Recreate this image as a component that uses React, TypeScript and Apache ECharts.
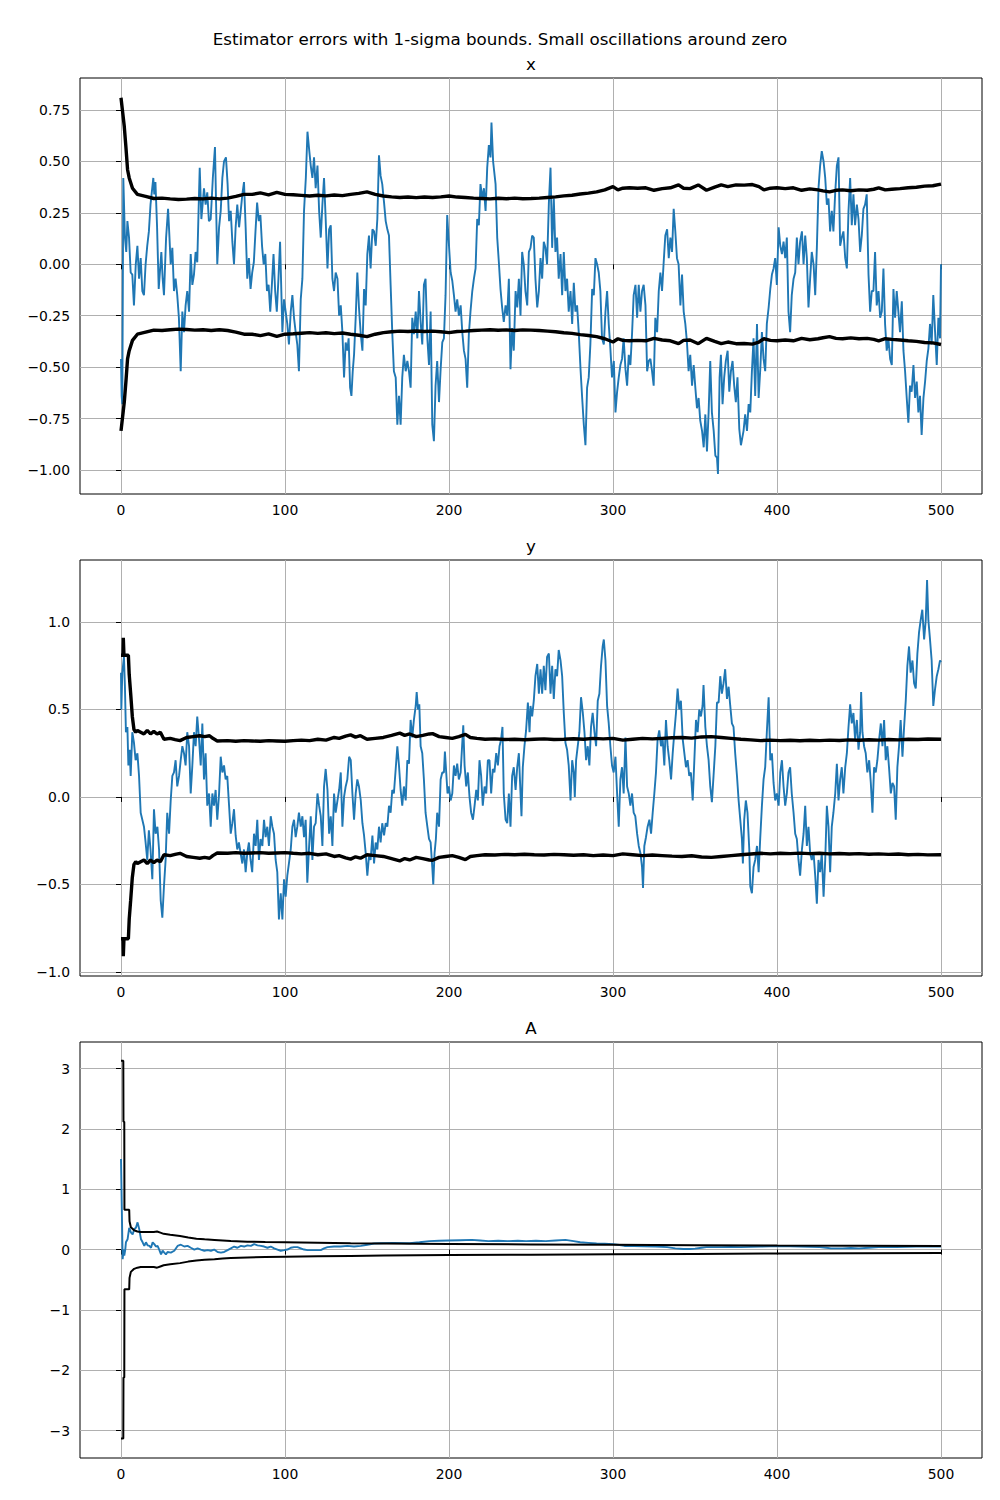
import React, { useEffect, useRef } from 'react';
import * as echarts from 'echarts';

const SUPTITLE = 'Estimator errors with 1-sigma bounds. Small oscillations around zero';
const PANEL_TITLES = ['x', 'y', 'A'];
const T_TICKS = [0, 100, 200, 300, 400, 500];
const X_TICKS = [-1, -0.75, -0.5, -0.25, 0, 0.25, 0.5, 0.75];
const Y_TICKS = [-1, -0.5, 0, 0.5, 1];
const A_TICKS = [-3, -2, -1, 0, 1, 2, 3];

// x estimator error [t, err]
const xErr = [[0,-0.46],[0.4,-0.64],[0.8,-0.68],[1.4,0.42],[2.4,0.13],[3.2,0.06],[3.9,0.21],[4.9,0.13],[5.9,-0.04],[6.9,-0.05],[7.9,-0.2],[9,0],[10,0.09],[11,-0.07],[12,0.03],[13,-0.13],[14,-0.15],[15,0],[16,0.09],[17,0.16],[18,0.29],[19.7,0.42],[20.3,0.34],[21,0.4],[22,0.18],[23,-0.12],[24.6,0.06],[25.4,-0.07],[26.2,-0.15],[27.5,0.13],[28.7,0.27],[29.5,0.14],[30.3,0],[31.3,0.08],[32.3,-0.13],[33.3,-0.07],[34.3,-0.15],[35.3,-0.26],[36.4,-0.52],[37.4,-0.23],[38.4,-0.33],[39.4,-0.2],[40.4,-0.13],[41.5,-0.23],[42.5,0.05],[43.5,-0.1],[44.5,-0.05],[45.5,0.06],[46.5,0.01],[47.3,0.26],[48,0.47],[49,0.22],[50.6,0.37],[51.6,0.29],[52.6,0.35],[53.6,0.21],[54.7,0.22],[56,0.42],[57.3,0.57],[58.7,0],[59.8,0.18],[60.8,0.26],[61.8,0.42],[62.8,0.5],[64,0.52],[65,0.39],[65.9,0.21],[66.9,0.26],[67.9,0.11],[68.9,0],[69.9,0.18],[70.9,0.29],[72,0.18],[73,0.26],[74,0.34],[75,0.4],[76,0.18],[77,-0.07],[78,0.03],[79,-0.12],[80,-0.04],[81,0.01],[82,0.16],[83,0.3],[84,0.21],[85,0.24],[86,0.09],[87,0],[88,0.05],[89,-0.13],[90,-0.1],[91,-0.23],[92,-0.1],[93,0.05],[94,-0.13],[95,-0.23],[96,-0.07],[97,0.11],[98.4,-0.33],[99.4,-0.17],[100.4,-0.23],[101.4,-0.29],[102.4,-0.39],[103.5,-0.23],[104.5,-0.15],[105.5,-0.26],[106.5,-0.33],[107.5,-0.39],[108.5,-0.52],[109.6,-0.17],[110.6,-0.07],[111.6,0.26],[112.7,0.42],[113.7,0.645],[114.7,0.56],[115.7,0.48],[116.7,0.42],[117.7,0.52],[118.7,0.37],[119.8,0.48],[120.8,0.26],[121.8,0.13],[122.8,0.29],[123.8,0.42],[124.8,0.22],[125.9,-0.02],[126.9,0.17],[127.9,0.19],[128.9,-0.07],[129.9,-0.13],[130.9,-0.04],[132,-0.07],[133,-0.25],[134,-0.2],[135,-0.33],[136,-0.55],[137,-0.38],[138,-0.42],[138.8,-0.36],[139.7,-0.6],[140.5,-0.64],[141.3,-0.52],[142.1,-0.44],[143.1,-0.26],[144.1,-0.04],[145.1,-0.21],[146.2,-0.34],[147.2,-0.42],[148.2,-0.12],[149.2,-0.2],[150.2,0.05],[151.2,0.14],[152.2,-0.02],[153.3,0.17],[154.3,0.16],[155.3,0.09],[156.3,0.22],[157.3,0.53],[158.3,0.43],[159.3,0.39],[160.4,0.3],[161.4,0.21],[162.4,0.17],[163.4,0.14],[164.4,-0.1],[165.4,-0.33],[166.4,-0.52],[167.5,-0.55],[168.5,-0.78],[169.5,-0.64],[170.5,-0.78],[171.5,-0.55],[172.5,-0.44],[173.6,-0.52],[174.6,-0.47],[175.6,-0.52],[176.6,-0.6],[177.6,-0.26],[178.6,-0.34],[179.7,-0.23],[180.7,-0.36],[181.7,-0.13],[182.7,-0.28],[183.7,-0.39],[184.7,-0.1],[185.7,-0.07],[186.8,-0.36],[187.8,-0.49],[188.8,-0.23],[189.8,-0.78],[190.8,-0.86],[191.8,-0.59],[192.8,-0.47],[193.9,-0.67],[194.9,-0.51],[195.9,-0.38],[196.9,-0.36],[197.9,-0.15],[198.9,0.24],[200,0.09],[201,-0.04],[202,-0.08],[203,-0.15],[204,-0.23],[205,-0.17],[206,-0.25],[207.1,-0.2],[208.1,-0.33],[209.1,-0.42],[210.1,-0.46],[211.1,-0.6],[212.1,-0.34],[213.1,-0.23],[214.2,-0.13],[215.2,-0.07],[216.2,-0.02],[217.2,0.22],[218.2,0.19],[219.2,0.39],[220.3,0.32],[221.3,0.37],[222.3,0.26],[223.3,0.47],[224.3,0.58],[225.3,0.52],[225.9,0.69],[226.9,0.5],[228.4,0.39],[229.4,0.13],[230.4,0.01],[231.4,-0.12],[232.4,-0.21],[233.4,-0.28],[234.5,-0.2],[235.5,-0.25],[236.5,-0.07],[237.5,-0.51],[238.5,-0.31],[239.5,-0.42],[240.6,-0.13],[241.6,-0.21],[242.6,-0.07],[243.6,-0.25],[244.6,0.06],[245.6,0],[246.6,-0.13],[247.7,-0.2],[248.7,0.06],[249.7,0.08],[250.7,0.14],[251.7,0.13],[252.7,-0.07],[253.8,-0.21],[254.8,-0.13],[255.8,0.03],[256.8,-0.07],[257.8,0.11],[258.8,0.08],[259.8,0],[260.9,0.3],[261.9,0.47],[262.9,0.08],[263.9,0.32],[264.9,0.06],[265.9,0.13],[266.9,-0.07],[268,0.05],[269,-0.15],[270,0.06],[271,-0.13],[272,-0.07],[273,-0.23],[274.1,-0.13],[275.1,-0.29],[276.1,-0.09],[277.1,-0.23],[278.1,-0.2],[279.1,-0.33],[280.2,-0.51],[281.2,-0.65],[282.2,-0.78],[283.2,-0.88],[284.2,-0.6],[285.2,-0.55],[286.2,-0.39],[287.3,-0.12],[288.3,-0.15],[289.3,0.03],[290.3,0],[291.3,-0.04],[292.3,-0.13],[293.3,-0.36],[294.4,-0.39],[295.4,-0.23],[296.4,-0.13],[297.4,-0.29],[298.4,-0.41],[299.4,-0.55],[300.5,-0.47],[301.5,-0.72],[302.5,-0.62],[303.5,-0.55],[304.5,-0.49],[305.5,-0.46],[306.5,-0.36],[307.6,-0.51],[308.6,-0.59],[309.6,-0.44],[310.6,-0.49],[311.6,-0.34],[312.6,-0.15],[313.7,-0.1],[314.7,-0.26],[315.7,-0.1],[316.7,-0.23],[317.7,-0.13],[318.7,-0.1],[319.8,-0.2],[320.8,-0.52],[321.8,-0.47],[322.8,-0.46],[323.8,-0.52],[324.8,-0.59],[325.8,-0.26],[326.9,-0.33],[327.9,-0.13],[328.9,-0.04],[329.9,-0.13],[330.9,0.01],[331.9,0.14],[333,0.17],[334,0.03],[335,0.13],[336,0.06],[337,0.27],[338,0.16],[339,0.03],[340,0],[341.1,-0.2],[342.1,-0.05],[343.1,-0.23],[344.1,-0.29],[345.1,-0.38],[346.1,-0.52],[347.1,-0.44],[348.2,-0.59],[349.2,-0.49],[350.2,-0.6],[351.2,-0.7],[352.2,-0.65],[353.2,-0.76],[354.3,-0.81],[355.3,-0.89],[356.3,-0.73],[357.3,-0.91],[358.3,-0.72],[359.3,-0.47],[360.3,-0.72],[361.4,-0.81],[362.4,-0.93],[363.4,-0.94],[364,-1.02],[365,-0.55],[365.8,-0.44],[366.8,-0.68],[367.8,-0.55],[368.8,-0.47],[369.9,-0.42],[370.9,-0.62],[371.9,-0.52],[372.9,-0.47],[373.9,-0.59],[374.9,-0.67],[375.9,-0.55],[377,-0.8],[378,-0.88],[379.6,-0.81],[380.6,-0.73],[381.7,-0.81],[382.7,-0.68],[383.7,-0.72],[384.7,-0.52],[385.7,-0.36],[386.7,-0.64],[387.8,-0.29],[388.8,-0.65],[389.8,-0.51],[390.8,-0.33],[391.8,-0.46],[392.8,-0.52],[393.8,-0.29],[394.9,-0.21],[395.9,-0.12],[396.9,-0.05],[397.9,-0.02],[398.9,0.03],[399.9,-0.1],[401,0.18],[402,0.09],[403,0.05],[404,0.11],[405,0.03],[406,0.13],[407,-0.23],[408,-0.33],[409,-0.15],[410.1,-0.07],[411.1,-0.04],[412.1,0.13],[413.1,0],[414.1,0.11],[415.2,0.16],[416.2,0],[417.2,0.14],[418.2,0.03],[419.2,-0.21],[420.2,-0.07],[421.2,0.06],[422.3,0],[423.3,-0.15],[424.3,0.08],[425.3,0.37],[426.3,0.48],[427.3,0.55],[428.4,0.5],[429.4,0.42],[430.4,0.29],[431.4,0.32],[432.4,0.16],[433.4,0.26],[434.4,0.16],[435.5,0.35],[436.5,0.48],[437.5,0.52],[438.5,0.09],[439.5,0.13],[440.5,0.16],[441.6,0.03],[442.6,-0.02],[443.6,0.26],[444.6,0.42],[445.6,0.19],[446.6,0.34],[447.6,0.19],[448.7,0.29],[449.7,0.22],[450.7,0.06],[451.7,0.14],[452.7,0.27],[453.7,0.29],[454.7,0.34],[455.8,-0.05],[456.8,-0.23],[457.8,-0.13],[458.8,-0.13],[459.8,0.06],[460.8,-0.2],[461.9,-0.13],[462.9,-0.26],[463.9,-0.23],[464.9,-0.02],[465.9,-0.29],[466.9,-0.42],[467.9,-0.36],[469,-0.46],[470,-0.49],[471,-0.12],[472,-0.26],[473,-0.13],[474,-0.23],[475,-0.33],[476.1,-0.18],[477.1,-0.42],[478.1,-0.52],[479.1,-0.65],[480.1,-0.77],[481.1,-0.59],[482.1,-0.62],[483.2,-0.49],[484.2,-0.65],[485.2,-0.57],[486.2,-0.72],[487.2,-0.64],[488.2,-0.83],[489.3,-0.65],[490.3,-0.57],[491.3,-0.47],[492.3,-0.41],[493.3,-0.29],[494.3,-0.39],[495.3,-0.15],[496.4,-0.33],[497.4,-0.49],[498.4,-0.26],[499.4,-0.36],[500,0]];

// x 1-sigma bound [t, sigma]
const xSigma = [[0,0.81],[1,0.74],[2,0.67],[3,0.57],[4,0.46],[5,0.42],[7,0.37],[10,0.34],[15,0.33],[20,0.32],[25,0.322],[30,0.318],[35,0.315],[40,0.317],[45,0.32],[50,0.318],[55,0.322],[60,0.318],[65,0.322],[70,0.33],[75,0.34],[80,0.34],[85,0.347],[90,0.338],[95,0.35],[100,0.34],[105,0.338],[110,0.335],[115,0.332],[120,0.336],[125,0.333],[130,0.337],[135,0.334],[140,0.34],[145,0.345],[150,0.352],[155,0.34],[160,0.332],[165,0.328],[170,0.325],[175,0.327],[180,0.324],[185,0.327],[190,0.325],[195,0.328],[200,0.332],[205,0.327],[210,0.325],[215,0.322],[220,0.32],[225,0.318],[230,0.321],[235,0.319],[240,0.322],[245,0.319],[250,0.32],[255,0.322],[260,0.325],[265,0.328],[270,0.333],[275,0.336],[280,0.342],[285,0.346],[290,0.352],[295,0.362],[300,0.378],[303,0.362],[306,0.37],[310,0.372],[315,0.37],[320,0.372],[325,0.36],[330,0.368],[335,0.372],[340,0.386],[343,0.37],[347,0.368],[352,0.386],[357,0.36],[362,0.375],[366,0.386],[370,0.378],[375,0.386],[380,0.385],[385,0.388],[389,0.378],[392,0.362],[396,0.37],[400,0.372],[405,0.368],[410,0.372],[415,0.36],[420,0.367],[425,0.362],[428,0.357],[432,0.352],[436,0.36],[440,0.362],[445,0.358],[450,0.362],[455,0.36],[459,0.365],[462,0.372],[466,0.362],[470,0.365],[475,0.368],[480,0.372],[485,0.375],[490,0.38],[495,0.382],[500,0.39]];

// y estimator error [t, err]
const yErr = [[0,0.71],[0.2,0.5],[0.8,0.71],[1.8,0.8],[2.4,0.63],[3,0.37],[3.9,0.4],[4.5,0.18],[5.3,0.27],[5.9,0.12],[6.9,0.37],[7.9,0.31],[8.9,0.21],[10,0.25],[11,0.12],[12,-0.09],[13,-0.13],[14,-0.17],[15,-0.26],[16,-0.36],[17,-0.19],[18,-0.3],[19.1,-0.47],[20.1,-0.07],[21.1,-0.21],[22.2,-0.17],[23.2,-0.3],[24.2,-0.59],[25.2,-0.69],[26.2,-0.51],[27.2,-0.36],[28.2,-0.09],[29.3,-0.21],[30.3,-0.02],[31.3,0.12],[32.3,0.14],[33.3,0.21],[34.3,0.06],[35.4,0.12],[36.4,0.21],[37.4,0.29],[38.4,0.25],[39.4,0.18],[40.4,0.37],[41.5,0.29],[42.5,0.02],[43.5,0.18],[44.5,0.37],[45.5,0.29],[46.5,0.46],[47.6,0.33],[48.6,0.18],[49.6,0.42],[50.6,0.1],[51.6,0.25],[52.6,-0.05],[53.7,0.02],[54.7,-0.17],[55.7,0.02],[56.7,-0.05],[57.7,0.04],[58.7,-0.13],[59.8,0.02],[60.8,0.23],[61.8,0.14],[62.8,0.18],[63.8,0.1],[64.8,0.12],[65.9,-0.05],[66.9,-0.21],[67.9,-0.15],[68.9,-0.07],[69.9,-0.22],[70.9,-0.3],[71.9,-0.26],[72.9,-0.32],[74,-0.38],[75,-0.3],[76,-0.43],[77,-0.32],[78,-0.26],[79,-0.36],[80,-0.43],[81.1,-0.21],[82.1,-0.28],[83.1,-0.13],[84.1,-0.36],[85.1,-0.24],[86.2,-0.28],[87.2,-0.13],[88.2,-0.23],[89.2,-0.17],[90.2,-0.28],[91.3,-0.11],[92.3,-0.17],[93.3,-0.21],[94.3,-0.36],[95.3,-0.43],[96.3,-0.7],[97.4,-0.55],[98.4,-0.7],[99.4,-0.47],[100.4,-0.57],[101.4,-0.45],[102.4,-0.38],[103.5,-0.3],[104.5,-0.17],[105.5,-0.13],[106.5,-0.23],[107.5,-0.17],[108.5,-0.09],[109.6,-0.17],[110.6,-0.11],[111.6,-0.23],[112.6,-0.13],[113.6,-0.49],[114.6,-0.3],[115.7,-0.11],[116.7,-0.36],[117.7,-0.17],[118.7,-0.15],[119.8,0.02],[120.8,-0.05],[121.8,-0.11],[122.8,-0.28],[123.8,0.06],[124.8,0.16],[125.9,0.04],[126.9,-0.21],[127.9,-0.11],[128.9,-0.28],[129.9,0.02],[130.9,-0.09],[132,-0.02],[133,0.04],[134,0.14],[135,-0.17],[136,0],[137,0.06],[138,0.1],[139.1,0.23],[140.1,0.21],[141.1,0.02],[142.1,-0.13],[143.1,0.02],[144.1,0.1],[145.1,0.06],[146.2,-0.02],[147.2,-0.15],[148.2,-0.22],[149.2,-0.32],[150.2,-0.45],[151.2,-0.34],[152.2,-0.36],[153.3,-0.22],[154.3,-0.38],[155.3,-0.26],[156.3,-0.3],[157.3,-0.17],[158.3,-0.26],[159.3,-0.15],[160.4,-0.22],[161.4,-0.15],[162.4,-0.17],[163.4,-0.05],[164.4,-0.09],[165.4,0.04],[166.4,0.02],[167.5,0.16],[168.5,0.29],[169.5,0.18],[170.5,0.04],[171.5,-0.05],[172.5,0.06],[173.6,-0.02],[174.6,0.21],[175.6,0.19],[176.6,0.44],[177.6,0.34],[178.6,0.44],[179.7,0.52],[180.3,0.6],[181.1,0.5],[181.9,0.53],[182.7,0.29],[183.7,0.25],[184.7,0.1],[185.7,-0.09],[186.8,-0.17],[187.8,-0.24],[188.8,-0.26],[189.8,-0.4],[190.4,-0.5],[191.2,-0.32],[192,-0.24],[192.8,-0.09],[193.9,-0.17],[194.9,0.1],[195.9,0.14],[196.9,0.14],[197.5,0.26],[198.3,0.14],[199.1,0.02],[199.9,0.06],[201,-0.02],[202,0.02],[203,0.18],[204,0.12],[205,0.19],[206,0.1],[207.1,0.14],[208.1,0.31],[208.7,0.41],[209.5,0.18],[210.5,0.06],[211.5,0.14],[212.5,0],[213.5,-0.09],[214.6,-0.13],[215.6,-0.05],[216.6,0.04],[217.6,-0.02],[218.6,0.21],[219.6,0.12],[220.6,-0.05],[221.7,0.06],[222.7,0.02],[223.7,0.21],[224.7,0.21],[225.7,0.02],[226.7,0.16],[227.7,0.14],[228.8,0.25],[229.8,0.18],[230.8,0.29],[231.8,0.33],[232.6,0.4],[233.4,0.02],[234.5,-0.13],[235.5,-0.15],[236.5,0.02],[237.5,-0.17],[238.5,0.12],[239.5,0.17],[240.6,0.04],[241.6,0.17],[242.6,0.25],[243.6,0.02],[244.2,-0.11],[245,0.17],[246,0.29],[247,0.38],[248.1,0.54],[249.1,0.37],[249.7,0.52],[250.7,0.46],[251.7,0.55],[252.7,0.69],[253.8,0.76],[254.8,0.59],[255.8,0.73],[256.8,0.59],[257.8,0.75],[258.8,0.61],[259.8,0.8],[260.9,0.82],[261.9,0.59],[262.9,0.75],[263.9,0.56],[264.9,0.73],[265.9,0.69],[266.9,0.84],[268,0.78],[269,0.69],[270,0.48],[271,0.31],[272,0.27],[273,0.18],[274.1,-0.02],[275.1,0.21],[276.1,0.14],[276.7,0],[277.5,0.21],[278.5,0.29],[279.5,0.37],[280.5,0.57],[281.6,0.48],[282.6,0.37],[283.6,0.21],[284.6,0.29],[285.6,0.18],[286.6,0.4],[287.6,0.48],[288.7,0.37],[289.7,0.29],[290.7,0.55],[291.7,0.59],[292.7,0.75],[293.7,0.86],[294.4,0.9],[295.4,0.78],[296.4,0.52],[297.4,0.42],[298.4,0.29],[299.4,0.18],[300.4,0.14],[301.5,0.23],[302.5,0.02],[303.5,-0.17],[304.5,0.1],[305.5,0.17],[306.5,0.02],[307.6,0.34],[308.6,0.06],[309.6,0.02],[310.6,-0.05],[311.6,0.02],[312.6,-0.09],[313.6,-0.11],[314.7,-0.21],[315.7,-0.28],[316.7,-0.32],[317.7,-0.4],[318.3,-0.52],[319.1,-0.28],[320.1,-0.23],[321.1,-0.17],[322.2,-0.13],[323.2,-0.21],[324.2,-0.09],[325.2,0.02],[326.2,0.14],[327.2,0.33],[328.2,0.38],[329.3,0.29],[330.3,0.33],[331.3,0.18],[332.3,0.44],[333.3,0.29],[334.3,0.21],[335.4,0.1],[336.4,0.25],[337.4,0.37],[338.4,0.48],[339.4,0.62],[340.4,0.5],[341.4,0.55],[342.5,0.33],[343.5,0.25],[344.5,0.17],[345.5,0.21],[346.5,0.12],[347.5,0.14],[348.6,-0.02],[349.6,0.21],[350.6,0.44],[351.6,0.37],[352.6,0.5],[353.6,0.46],[354.6,0.52],[355.2,0.64],[356.3,0.4],[357.3,0.29],[358.3,0.21],[359.3,0.06],[360.3,-0.03],[361.3,0.12],[362.4,0.29],[363.4,0.54],[364.4,0.54],[365.4,0.69],[366.4,0.59],[367.4,0.65],[368.4,0.73],[369.5,0.56],[370.5,0.63],[371.5,0.52],[372.5,0.42],[373.5,0.4],[374.5,0.25],[375.6,0.12],[376.6,-0.02],[377.6,-0.13],[378.6,-0.24],[379.2,-0.38],[380,-0.13],[381,-0.02],[382,-0.09],[383.1,-0.3],[383.7,-0.51],[384.7,-0.55],[385.7,-0.4],[386.7,-0.36],[387.8,-0.28],[388.8,-0.43],[389.8,-0.23],[390.8,-0.05],[391.8,0.1],[392.8,0.17],[393.8,0.37],[394.9,0.57],[395.9,0.21],[396.9,0.25],[397.9,0.08],[398.9,-0.02],[399.9,0.02],[401,-0.05],[402,0.14],[403,0.21],[404,0.06],[405,-0.05],[406,0.02],[407,0.14],[408,0.17],[409,0.02],[410.1,-0.09],[411.1,-0.21],[412.1,-0.24],[413.1,-0.36],[414.1,-0.45],[415.2,-0.3],[416.2,-0.21],[417.2,-0.05],[418.2,-0.28],[419.2,-0.17],[420.2,-0.32],[421.2,-0.36],[422.3,-0.32],[423.3,-0.45],[424.3,-0.61],[425.3,-0.36],[426.3,-0.43],[427.3,-0.32],[428.4,-0.57],[429.4,-0.36],[430.4,-0.05],[431.4,-0.17],[432.4,-0.43],[433.4,-0.17],[434.4,-0.09],[435.5,0.02],[436.5,0.19],[437.5,-0.02],[438.5,0.1],[439.5,0.17],[440.5,0.02],[441.6,0.17],[442.6,0.25],[443.6,0.4],[444.6,0.53],[445.6,0.42],[446.6,0.48],[447.6,0.33],[448.7,0.44],[449.7,0.27],[450.7,0.37],[451.3,0.6],[452.1,0.37],[453.1,0.29],[454.1,0.25],[455.1,0.14],[456.2,0.21],[457.2,0.08],[458.2,-0.09],[459.2,0.17],[460.2,0.14],[461.2,0.21],[462.3,0.33],[463.3,0.42],[464.3,0.29],[465.3,0.44],[466.3,0.21],[467.3,0.29],[468.3,0.17],[469.4,0.02],[470.4,0.08],[471.4,0.06],[472.4,-0.13],[473.4,0.17],[474.4,0.29],[475.4,0.44],[476.5,0.23],[477.5,0.4],[478.5,0.55],[479.5,0.75],[480.5,0.86],[481.5,0.71],[482.6,0.78],[483.6,0.65],[484.6,0.62],[485.6,0.82],[486.6,0.94],[487.6,1.01],[488.6,1.07],[489.7,0.9],[490.7,1.01],[491.5,1.24],[492.3,1.01],[493.3,0.9],[494.3,0.78],[495.3,0.52],[496.3,0.61],[497.4,0.69],[498.4,0.73],[499.4,0.78],[500,0.77]];

// y 1-sigma bound [t, sigma]
const ySigma = [[0,0.81],[1.2,0.81],[1.4,0.91],[1.8,0.81],[4.5,0.81],[5,0.7],[5.9,0.59],[6.9,0.46],[7.9,0.385],[9,0.37],[10,0.38],[12,0.37],[14,0.36],[16,0.38],[18,0.36],[20,0.375],[22,0.36],[24,0.37],[26.2,0.33],[30,0.335],[33,0.328],[36,0.322],[40,0.34],[44,0.345],[48,0.35],[51,0.345],[54,0.35],[56,0.335],[58.7,0.32],[65,0.322],[70,0.318],[75,0.322],[80,0.32],[85,0.318],[90,0.322],[95,0.32],[100,0.318],[105,0.322],[110,0.325],[115,0.322],[120,0.33],[125,0.325],[130,0.34],[133,0.335],[137,0.348],[140,0.355],[143,0.342],[146,0.35],[150,0.33],[155,0.335],[160,0.34],[165,0.352],[170,0.365],[173,0.352],[176,0.36],[180,0.345],[184,0.352],[188,0.36],[190,0.362],[194,0.345],[198,0.34],[202,0.335],[206,0.345],[210,0.358],[213,0.34],[217,0.335],[222,0.33],[228,0.332],[234,0.328],[240,0.33],[246,0.327],[252,0.33],[258,0.332],[264,0.328],[270,0.33],[276,0.333],[282,0.33],[288,0.335],[294,0.332],[300,0.335],[306,0.325],[312,0.33],[318,0.335],[324,0.332],[330,0.335],[336,0.338],[342,0.34],[348,0.336],[354,0.343],[360,0.345],[366,0.34],[372,0.335],[378,0.33],[384,0.326],[390,0.322],[396,0.325],[402,0.322],[408,0.324],[414,0.321],[420,0.324],[426,0.322],[432,0.325],[438,0.323],[444,0.326],[450,0.324],[456,0.327],[462,0.325],[468,0.328],[474,0.326],[480,0.33],[486,0.328],[492,0.331],[500,0.33]];

// A estimator error [t, err]
const aErr = [[0,1.5],[1,-0.16],[1.6,0],[2,-0.1],[2.6,0],[3,0.12],[4,0.17],[5,0.36],[6.1,0.28],[7.1,0.25],[8.1,0.34],[9.1,0.36],[10.1,0.45],[11.1,0.34],[12.2,0.17],[13.2,0.12],[14.2,0.06],[15.2,0.12],[16.2,0.07],[17.3,0.06],[18.3,0.03],[19.3,0.12],[20.3,0.09],[21.3,0.05],[22.3,0.06],[23.3,0],[24.4,-0.08],[25.4,-0.02],[26.4,-0.05],[27.4,-0.08],[28.4,-0.04],[30.4,-0.05],[32.5,-0.02],[34.5,0.06],[36.5,0.08],[38.6,0.05],[40.6,0.06],[42.6,0.03],[44.7,0],[46.7,0.02],[48.7,0],[50.8,-0.02],[52.8,-0.01],[54.8,-0.02],[56.8,0],[58.9,-0.04],[60.9,-0.05],[62.9,-0.04],[65,-0.01],[67,0.02],[69,0.05],[71,0.03],[73.1,0.06],[75.1,0.05],[77.1,0.07],[79.2,0.06],[81.2,0.09],[83.2,0.07],[85.3,0.06],[87.3,0.05],[89.3,0.03],[91.3,0.05],[93.4,0.02],[95.4,0],[97.4,-0.02],[99.5,-0.01],[101.5,0],[103.5,0.03],[105.5,0.04],[107.6,0.04],[109.6,0.02],[111.6,0],[113.7,-0.01],[117.7,-0.01],[121.8,-0.01],[123.8,0.02],[125.9,0.04],[129.9,0.05],[134,0.05],[138,0.06],[142.1,0.05],[146.2,0.06],[150.2,0.08],[154.3,0.1],[158.3,0.105],[166,0.11],[176,0.105],[182,0.12],[188,0.14],[194,0.145],[200,0.15],[207,0.155],[214,0.16],[219,0.15],[224,0.14],[230,0.145],[236,0.14],[242,0.145],[247,0.14],[253,0.145],[259,0.14],[265,0.15],[271,0.16],[276,0.14],[280,0.12],[285,0.11],[290,0.1],[295,0.095],[300,0.09],[304,0.075],[307,0.06],[313,0.06],[319,0.055],[326,0.05],[333,0.04],[338,0.02],[343,0.01],[347,0.01],[350,0.015],[354,0.03],[357,0.04],[362,0.04],[366,0.04],[372,0.045],[378,0.04],[384,0.045],[390,0.05],[396,0.055],[402,0.06],[408,0.055],[414,0.05],[420,0.045],[426,0.04],[430,0.03],[433,0.02],[440,0.02],[445,0.025],[450,0.02],[456,0.03],[462,0.04],[468,0.04],[473,0.04],[479,0.045],[485,0.05],[492,0.05],[500,0.05]];

// A 1-sigma bound [t, sigma]
const aSigma = [[0,3.13],[1.4,3.13],[1.5,2.12],[2.0,2.12],[2.1,0.66],[5,0.66],[5.2,0.47],[6,0.37],[8,0.32],[10,0.3],[12,0.29],[16,0.29],[20,0.29],[22,0.3],[24,0.28],[26,0.26],[30,0.245],[36,0.225],[41,0.2],[46,0.18],[51,0.17],[57,0.16],[62,0.15],[67,0.14],[77,0.13],[88,0.125],[100,0.12],[120,0.112],[140,0.105],[160,0.1],[180,0.096],[200,0.092],[250,0.085],[300,0.078],[350,0.072],[400,0.066],[450,0.062],[500,0.058]];

const BLUE = '#1f77b4';
const FONT = '"DejaVu Sans", sans-serif';

export default function App() {
  const ref = useRef<HTMLDivElement>(null);
  useEffect(() => {
    const chart = echarts.init(ref.current as HTMLDivElement, null, { renderer: 'svg' });
    const panels = [
      { top: 78, err: xErr, sigma: xSigma, ticks: X_TICKS, min: -1.117, max: 0.906, dec: 2, bw: 3.4 },
      { top: 560, err: yErr, sigma: ySigma, ticks: Y_TICKS, min: -1.023, max: 1.354, dec: 1, bw: 3.4 },
      { top: 1042, err: aErr, sigma: aSigma, ticks: A_TICKS, min: -3.455, max: 3.44, dec: 0, bw: 2 },
    ];
    const fmt = (dec: number) => (v: number) => {
      const s = Math.abs(v) < 1e-9 ? (0).toFixed(dec) : v.toFixed(dec);
      return s.replace('-', '\u2212');
    };
    const grid = panels.map((p) => ({
      left: 80, top: p.top, width: 902, height: 416,
      show: true, borderColor: '#000', borderWidth: 1, backgroundColor: 'transparent',
      containLabel: false,
    }));
    const xAxis = panels.map((p, i) => ({
      type: 'value', gridIndex: i, min: -25, max: 525,
      axisLine: { show: false },
      axisTick: { show: true, length: 5, lineStyle: { color: '#000', width: 1 }, customValues: T_TICKS },
      axisLabel: { customValues: T_TICKS, color: '#000', fontSize: 13.9, fontFamily: FONT, margin: 9, formatter: fmt(0) },
      splitLine: { show: true, lineStyle: { color: '#b0b0b0', width: 1 } },
    }));
    const yAxis = panels.map((p, i) => ({
      type: 'value', gridIndex: i, min: p.min, max: p.max,
      axisLine: { show: false },
      axisTick: { show: true, length: 5, lineStyle: { color: '#000', width: 1 }, customValues: p.ticks },
      axisLabel: { customValues: p.ticks, color: '#000', fontSize: 13.9, fontFamily: FONT, margin: 10, formatter: fmt(p.dec) },
      splitLine: { show: true, lineStyle: { color: '#b0b0b0', width: 1 } },
    }));
    const series: any[] = [];
    panels.forEach((p, i) => {
      const base = { type: 'line', xAxisIndex: i, yAxisIndex: i, showSymbol: false, symbol: 'none', silent: true, animation: false };
      series.push({ ...base, data: p.err, lineStyle: { color: BLUE, width: 1.9 }, itemStyle: { color: BLUE }, z: 2 });
      series.push({ ...base, data: p.sigma, lineStyle: { color: '#000', width: p.bw }, itemStyle: { color: '#000' }, z: 3 });
      series.push({ ...base, data: p.sigma.map(([t, s]) => [t, -s]), lineStyle: { color: '#000', width: p.bw }, itemStyle: { color: '#000' }, z: 3 });
    });
    const graphic: any[] = [
      { type: 'text', x: 500, y: 38.5, style: { text: SUPTITLE, fill: '#000', font: `16.7px ${FONT}`, textAlign: 'center', textVerticalAlign: 'middle' } },
      ...panels.map((p, i) => ({
        type: 'text', x: 531, y: p.top - 14, style: { text: PANEL_TITLES[i], fill: '#000', font: `16.7px ${FONT}`, textAlign: 'center', textVerticalAlign: 'middle' },
      })),
    ];
    chart.setOption({
      animation: false,
      backgroundColor: '#fff',
      grid, xAxis, yAxis, series, graphic,
    });
    return () => chart.dispose();
  }, []);
  return <div ref={ref} style={{ position: 'absolute', left: 0, top: 0, width: 1000, height: 1500 }} />;
}
